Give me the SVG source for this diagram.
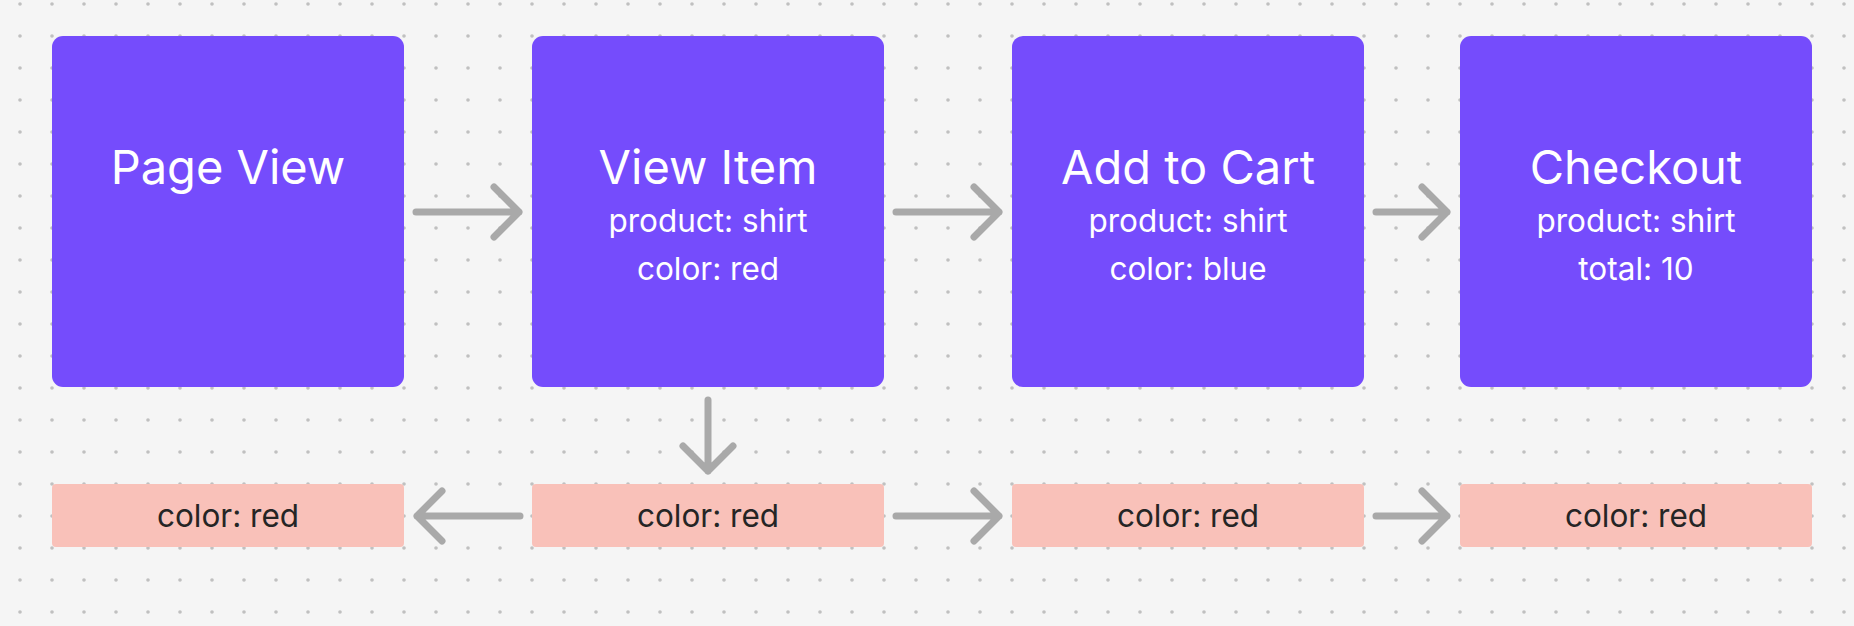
<svg xmlns="http://www.w3.org/2000/svg" width="1854" height="626" viewBox="0 0 1854 626">
  <defs>
    <pattern id="dots" x="4" y="-12" width="32" height="32" patternUnits="userSpaceOnUse">
      <circle cx="16" cy="16" r="1.8" fill="#c0c0c0"/>
    </pattern>
    <style>
      .evt { fill: #754cfc; }
      .prop { fill: #f9c1b9; }
      .title { font-family: Inter, "Noto Sans", sans-serif; font-size: 47px; fill: #ffffff; text-anchor: middle; }
      .sub { font-family: Inter, "Noto Sans", sans-serif; font-size: 31.5px; fill: #ffffff; text-anchor: middle; }
      .ptxt { font-family: Inter, "Noto Sans", sans-serif; font-size: 31.5px; fill: #252525; text-anchor: middle; }
      .conn { fill: none; stroke: #a9a9a9; stroke-width: 7; stroke-linecap: round; stroke-linejoin: round; }
    </style>
  </defs>
  <rect width="1854" height="626" fill="#f5f5f5"/>
  <rect width="1854" height="626" fill="url(#dots)"/>

  <g id="page-view">
    <rect class="evt" x="52" y="36" width="352" height="351" rx="11"/>
    <text class="title" x="228" y="184">Page View</text>
  </g>
  <g id="view-item">
    <rect class="evt" x="532" y="36" width="352" height="351" rx="11"/>
    <text class="title" x="708" y="184">View Item</text>
    <text class="sub" x="708" y="232">product: shirt</text>
    <text class="sub" x="708" y="280">color: red</text>
  </g>
  <g id="add-to-cart">
    <rect class="evt" x="1012" y="36" width="352" height="351" rx="11"/>
    <text class="title" x="1188" y="184">Add to Cart</text>
    <text class="sub" x="1188" y="232">product: shirt</text>
    <text class="sub" x="1188" y="280">color: blue</text>
  </g>
  <g id="checkout">
    <rect class="evt" x="1460" y="36" width="352" height="351" rx="11"/>
    <text class="title" x="1636" y="184">Checkout</text>
    <text class="sub" x="1636" y="232">product: shirt</text>
    <text class="sub" x="1636" y="280">total: 10</text>
  </g>

  <g id="prop-1">
    <rect class="prop" x="52" y="484" width="352" height="63" rx="4"/>
    <text class="ptxt" x="228" y="527">color: red</text>
  </g>
  <g id="prop-2">
    <rect class="prop" x="532" y="484" width="352" height="63" rx="4"/>
    <text class="ptxt" x="708" y="527">color: red</text>
  </g>
  <g id="prop-3">
    <rect class="prop" x="1012" y="484" width="352" height="63" rx="4"/>
    <text class="ptxt" x="1188" y="527">color: red</text>
  </g>
  <g id="prop-4">
    <rect class="prop" x="1460" y="484" width="352" height="63" rx="4"/>
    <text class="ptxt" x="1636" y="527">color: red</text>
  </g>

  <g id="connectors">
    <path class="conn" d="M416,212 H519 M494,187 L519,212 L494,237"/>
    <path class="conn" d="M896,212 H999 M974,187 L999,212 L974,237"/>
    <path class="conn" d="M1376,212 H1447 M1422,187 L1447,212 L1422,237"/>
    <path class="conn" d="M708,400 V471 M683,446 L708,471 L733,446"/>
    <path class="conn" d="M520,516 H417 M442,491 L417,516 L442,541"/>
    <path class="conn" d="M896,516 H999 M974,491 L999,516 L974,541"/>
    <path class="conn" d="M1376,516 H1447 M1422,491 L1447,516 L1422,541"/>
  </g>
</svg>
